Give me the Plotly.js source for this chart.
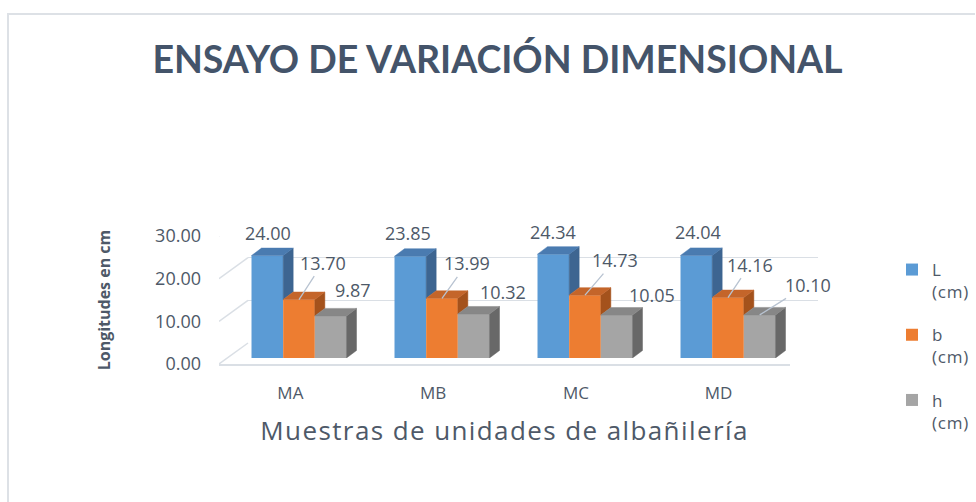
<!DOCTYPE html>
<html>
<head>
<meta charset="utf-8">
<script src="https://cdn.plot.ly/plotly-3.0.1.min.js"></script>
<style>
html,body{margin:0;padding:0;background:#fff}#chart{width:976px;height:502px}
#chart .x3title{letter-spacing:1.4px}
#chart .legendtext{letter-spacing:0.8px}
</style>
</head>
<body>
<div id="chart"></div>
<script>
// ---- data ----
const categories = ['MA', 'MB', 'MC', 'MD'];
const seriesNames = ['L<br>(cm)', 'b<br>(cm)', 'h<br>(cm)'];
const valuesL = [24.00, 23.85, 24.34, 24.04];
const valuesB = [13.70, 13.99, 14.73, 14.16];
const valuesH = [9.87, 10.32, 10.05, 10.10];
const yTickValues = [0, 10, 20, 30];

// ---- styling ----
const W = 976, H = 502;
const fx = px => px / W;
const fy = px => 1 - px / H;
const TFONT = 'Lato, "Noto Sans", sans-serif';
const FONT = '"Open Sans", "Noto Sans", sans-serif';
const TXT = '#4e5968';
const frontCol = ['#5b9bd5', '#ed7d31', '#a5a5a5'];
const topCol = ['#4a7bb0', '#c4652a', '#878787'];
const sideCol = ['#3d6591', '#a4521c', '#686868'];
const BW = 0.2214;           // bar width (category units)
const DX = 0.07, DY = 1.76;  // bar depth offset (x units, y units)
// label offsets in pixels [ax, ay] and whether a leader line is drawn
const labelOffsets = [
  [[1, -23], [-2, -23], [0, -22], [2, -23]],
  [[24, -37], [25, -35], [30, -35], [22, -33]],
  [[22, -26], [29, -22], [35, -20], [48, -30]]
];
const leaderLines = [[0, 0, 0, 0], [1, 1, 1, 1], [0, 0, 0, 1]];

const series = [valuesL, valuesB, valuesH];
const xs = categories.map((_, i) => i);

const traces = [];
traces.push({type: 'scatter', x: [], y: [], xaxis: 'x', yaxis: 'y', showlegend: false, hoverinfo: 'skip'});
// front faces (bars)
series.forEach((vals, j) => {
  traces.push({
    type: 'bar', name: seriesNames[j], x: xs, y: vals,
    xaxis: 'x2', yaxis: 'y2',
    width: BW, offset: -1.5 * BW + j * BW,
    marker: {color: frontCol[j], line: {width: 0}},
    legendgroup: 'g' + j, hoverinfo: 'y'
  });
});
// side and top faces (polygons built from the data)
series.forEach((vals, j) => {
  const sx = [], sy = [], tx = [], ty = [];
  vals.forEach((v, i) => {
    const xl = i - 1.5 * BW + j * BW, xr = xl + BW;
    const lower = j < series.length - 1 ? Math.min(series[j + 1][i], v) : 0;
    sx.push(xr, xr + DX, xr + DX, xr, xr, null);
    sy.push(lower, lower + DY, v + DY, v, lower, null);
    tx.push(xl, xl + DX, xr + DX, xr, xl, null);
    ty.push(v, v + DY, v + DY, v, v, null);
  });
  traces.push({type: 'scatter', mode: 'lines', x: sx, y: sy, fill: 'toself', fillcolor: sideCol[j],
    line: {color: sideCol[j], width: 0.5}, xaxis: 'x2', yaxis: 'y2', showlegend: false, hoverinfo: 'skip'});
  traces.push({type: 'scatter', mode: 'lines', x: tx, y: ty, fill: 'toself', fillcolor: topCol[j],
    line: {color: topCol[j], width: 0.5}, xaxis: 'x2', yaxis: 'y2', showlegend: false, hoverinfo: 'skip'});
});
traces.push({type: 'scatter', x: [], y: [], xaxis: 'x3', yaxis: 'y3', showlegend: false, hoverinfo: 'skip'});

// data labels
const annotations = [];
series.forEach((vals, j) => {
  vals.forEach((v, i) => {
    const xc = i - 1.5 * BW + j * BW + BW / 2;
    const lead = leaderLines[j][i] === 1;
    annotations.push({
      xref: 'x2', yref: 'y2', x: xc, y: v,
      text: v.toFixed(2), showarrow: true,
      ax: labelOffsets[j][i][0], ay: labelOffsets[j][i][1],
      arrowhead: 0, arrowwidth: 1.3, standoff: 0,
      arrowcolor: lead ? '#b8c3d1' : 'rgba(0,0,0,0)',
      font: {family: FONT, size: 18, color: TXT}
    });
  });
});

// left side wall lines (front to back) at each tick
const shapes = yTickValues.map(t => ({
  type: 'line', xref: 'x3', yref: 'y3',
  xsizemode: 'pixel', ysizemode: 'pixel', xanchor: -0.5, yanchor: t,
  x0: 0, x1: 29, y0: 0, y1: 21,
  line: {color: '#dadfe5', width: 1.5}
}));
// outer frame
shapes.push({type: 'line', xref: 'paper', yref: 'paper', x0: fx(7), x1: fx(975), y0: fy(14), y1: fy(14), line: {color: '#dde1e6', width: 2}});
shapes.push({type: 'line', xref: 'paper', yref: 'paper', x0: fx(8), x1: fx(8), y0: fy(14), y1: 0, line: {color: '#dde1e6', width: 2}});

const hidden = {showgrid: false, zeroline: false, showticklabels: false, showline: false, ticks: ''};
const layout = {
  width: W, height: H,
  margin: {l: 0, r: 0, t: 0, b: 0},
  paper_bgcolor: '#ffffff', plot_bgcolor: 'rgba(0,0,0,0)',
  barmode: 'overlay',
  font: {family: FONT, color: TXT},
  title: {text: '<b>ENSAYO DE VARIACIÓN DIMENSIONAL</b>', xref: 'container', yref: 'container',
    x: fx(497.5), y: fy(60), xanchor: 'center', yanchor: 'middle',
    font: {family: TFONT, size: 37.5, color: '#44546a'}},
  // back wall
  xaxis: Object.assign({}, hidden, {domain: [fx(248), fx(818)], range: [-0.5, 3.5], anchor: 'y'}),
  yaxis: {domain: [fy(343), fy(215)], range: [0, 30], anchor: 'x', tickvals: yTickValues,
    showgrid: true, gridcolor: '#dadfe5', gridwidth: 1.5, zeroline: false, showticklabels: false, ticks: '', showline: false},
  // bars
  xaxis2: Object.assign({}, hidden, {domain: [fx(227.5), fx(799.5)], range: [-0.5, 3.5], anchor: 'y2'}),
  yaxis2: Object.assign({}, hidden, {domain: [fy(358), fy(230)], range: [0, 30], anchor: 'x2'}),
  // front plane: floor line, tick labels, axis titles
  xaxis3: {domain: [fx(219), fx(790)], range: [-0.5, 3.5], anchor: 'y3',
    tickvals: xs, ticktext: categories, showgrid: false, zeroline: false,
    showline: true, linecolor: '#dadfe5', linewidth: 1.5, ticks: '', ticklabelstandoff: 13,
    tickfont: {family: FONT, size: 17, color: TXT},
    title: {text: 'Muestras de unidades de albañilería', standoff: 19, font: {family: FONT, size: 26, color: TXT}}},
  yaxis3: {domain: [fy(364), fy(236)], range: [0, 30], anchor: 'x3',
    tickvals: yTickValues, tickformat: '.2f', showgrid: false, zeroline: false, showline: false,
    ticks: '', ticklabelstandoff: 17, tickfont: {family: FONT, size: 18, color: TXT},
    title: {text: '<b>Longitudes en cm</b>', standoff: 40, font: {family: FONT, size: 16, color: TXT}}},
  legend: {x: fx(892), y: fy(252), xanchor: 'left', yanchor: 'top', traceorder: 'grouped',
    tracegroupgap: 18, valign: 'top', font: {family: FONT, size: 17, color: TXT}, bgcolor: 'rgba(0,0,0,0)'},
  showlegend: true,
  annotations: annotations,
  shapes: shapes
};

Plotly.newPlot('chart', traces, layout, {displayModeBar: false, staticPlot: true});
</script>
</body>
</html>
